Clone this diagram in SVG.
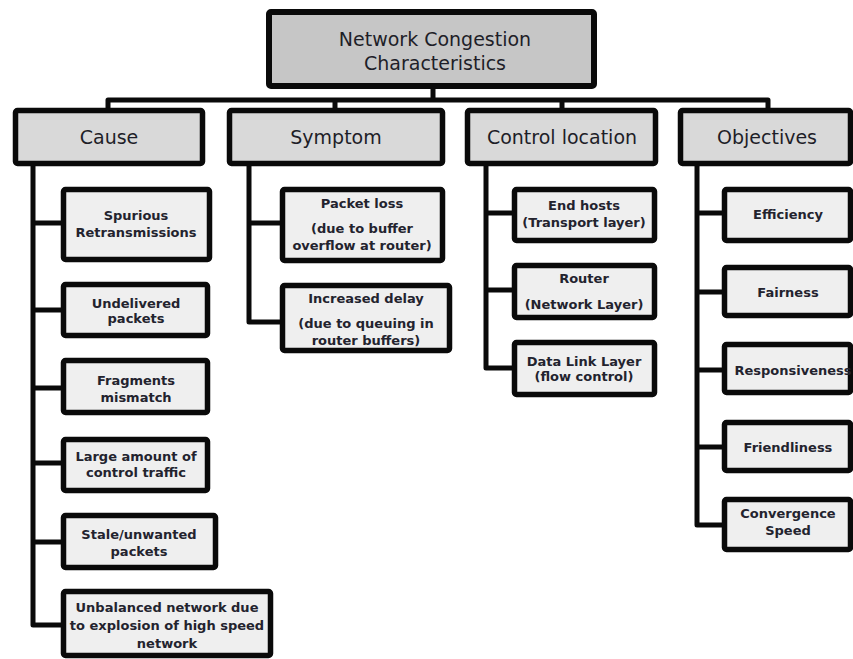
<svg xmlns="http://www.w3.org/2000/svg" width="853" height="659" viewBox="0 0 853 659">
<style>
.root{fill:#c6c6c6;stroke:#0a0a0a;stroke-width:6}
.cat{fill:#d9d9d9;stroke:#0a0a0a;stroke-width:5.5}
.leaf{fill:#efefef;stroke:#0a0a0a;stroke-width:5.5}
.conn{fill:none;stroke:#0a0a0a;stroke-width:5;stroke-linejoin:round}
.t1{font-family:"DejaVu Sans",sans-serif;font-size:19px;fill:#1e1e28;text-anchor:middle}
.t2{font-family:"DejaVu Sans",sans-serif;font-size:19px;fill:#1e1e28;text-anchor:middle}
.t3{font-family:"DejaVu Sans",sans-serif;font-size:13px;font-weight:bold;fill:#23232e;text-anchor:middle}
</style>
<rect width="853" height="659" fill="#ffffff"/>
<g id="connectors">
<path class="conn" d="M433,89 V100 M108,108 V100 H768 V108 M335,100 V108 M562,100 V108"/>
<path class="conn" d="M33,166 V625 H61 M33,223 H61 M33,310 H61 M33,388 H61 M33,463 H61 M33,542 H61"/>
<path class="conn" d="M249,166 V322 H280 M249,223 H280"/>
<path class="conn" d="M486,166 V368 H512 M486,213 H512 M486,290 H512"/>
<path class="conn" d="M697,166 V525 H722 M697,213 H722 M697,292 H722 M697,370 H722 M697,447 H722"/>
</g>
<g id="root"><rect class="root" x="269" y="12" width="325" height="74" rx="2"/>
<text class="t1" x="435" y="46">Network Congestion</text><text class="t1" x="435" y="70">Characteristics</text></g>
<g id="cause"><rect class="cat" x="15.5" y="110.5" width="187" height="53" rx="2"/><text class="t2" x="109" y="144">Cause</text></g>
<g id="symptom"><rect class="cat" x="229.5" y="110.5" width="213" height="53" rx="2"/><text class="t2" x="336" y="144">Symptom</text></g>
<g id="control"><rect class="cat" x="467.5" y="110.5" width="188" height="53" rx="2"/><text class="t2" x="562" y="144">Control location</text></g>
<g id="objectives"><rect class="cat" x="680.5" y="110.5" width="170" height="53" rx="2"/><text class="t2" x="767" y="144">Objectives</text></g>

<g id="spurious"><rect class="leaf" x="63.5" y="189.5" width="146" height="70" rx="2"/><text class="t3" x="136" y="220">Spurious</text><text class="t3" x="136" y="237">Retransmissions</text></g>
<g id="undelivered"><rect class="leaf" x="63.5" y="284.5" width="144" height="51" rx="2"/><text class="t3" x="136" y="308">Undelivered</text><text class="t3" x="136" y="323">packets</text></g>
<g id="fragments"><rect class="leaf" x="63.5" y="360.5" width="144" height="52" rx="2"/><text class="t3" x="136" y="385">Fragments</text><text class="t3" x="136" y="402">mismatch</text></g>
<g id="large"><rect class="leaf" x="63.5" y="439.5" width="144" height="51" rx="2"/><text class="t3" x="136" y="461">Large amount of</text><text class="t3" x="136" y="477">control traffic</text></g>
<g id="stale"><rect class="leaf" x="63.5" y="515.5" width="152" height="52" rx="2"/><text class="t3" x="139" y="539">Stale/unwanted</text><text class="t3" x="139" y="556">packets</text></g>
<g id="unbalanced"><rect class="leaf" x="63.5" y="591.5" width="207" height="64" rx="2"/><text class="t3" x="167" y="612">Unbalanced network due</text><text class="t3" x="167" y="630">to explosion of high speed</text><text class="t3" x="167" y="648">network</text></g>

<g id="packetloss"><rect class="leaf" x="282.5" y="189.5" width="160" height="71" rx="2"/><text class="t3" x="362" y="208">Packet loss</text><text class="t3" x="362" y="233">(due to buffer</text><text class="t3" x="362" y="250">overflow at router)</text></g>
<g id="delay"><rect class="leaf" x="282.5" y="285.5" width="167" height="65" rx="2"/><text class="t3" x="366" y="303">Increased delay</text><text class="t3" x="366" y="328">(due to queuing in</text><text class="t3" x="366" y="345">router buffers)</text></g>

<g id="endhosts"><rect class="leaf" x="514.5" y="189.5" width="140" height="51" rx="2"/><text class="t3" x="584" y="210">End hosts</text><text class="t3" x="584" y="227">(Transport layer)</text></g>
<g id="router"><rect class="leaf" x="514.5" y="265.5" width="140" height="52" rx="2"/><text class="t3" x="584" y="283">Router</text><text class="t3" x="584" y="309">(Network Layer)</text></g>
<g id="datalink"><rect class="leaf" x="514.5" y="342.5" width="140" height="52" rx="2"/><text class="t3" x="584" y="366">Data Link Layer</text><text class="t3" x="584" y="381">(flow control)</text></g>

<g id="efficiency"><rect class="leaf" x="724.5" y="189.5" width="126" height="51" rx="2"/><text class="t3" x="788" y="219">Efficiency</text></g>
<g id="fairness"><rect class="leaf" x="724.5" y="267.5" width="126" height="48" rx="2"/><text class="t3" x="788" y="297">Fairness</text></g>
<g id="responsiveness"><rect class="leaf" x="724.5" y="344.5" width="126" height="48" rx="2"/><text class="t3" x="793" y="375">Responsiveness</text></g>
<g id="friendliness"><rect class="leaf" x="724.5" y="422.5" width="126" height="48" rx="2"/><text class="t3" x="788" y="452">Friendliness</text></g>
<g id="convergence"><rect class="leaf" x="724.5" y="499.5" width="126" height="50" rx="2"/><text class="t3" x="788" y="518">Convergence</text><text class="t3" x="788" y="535">Speed</text></g>
</svg>
